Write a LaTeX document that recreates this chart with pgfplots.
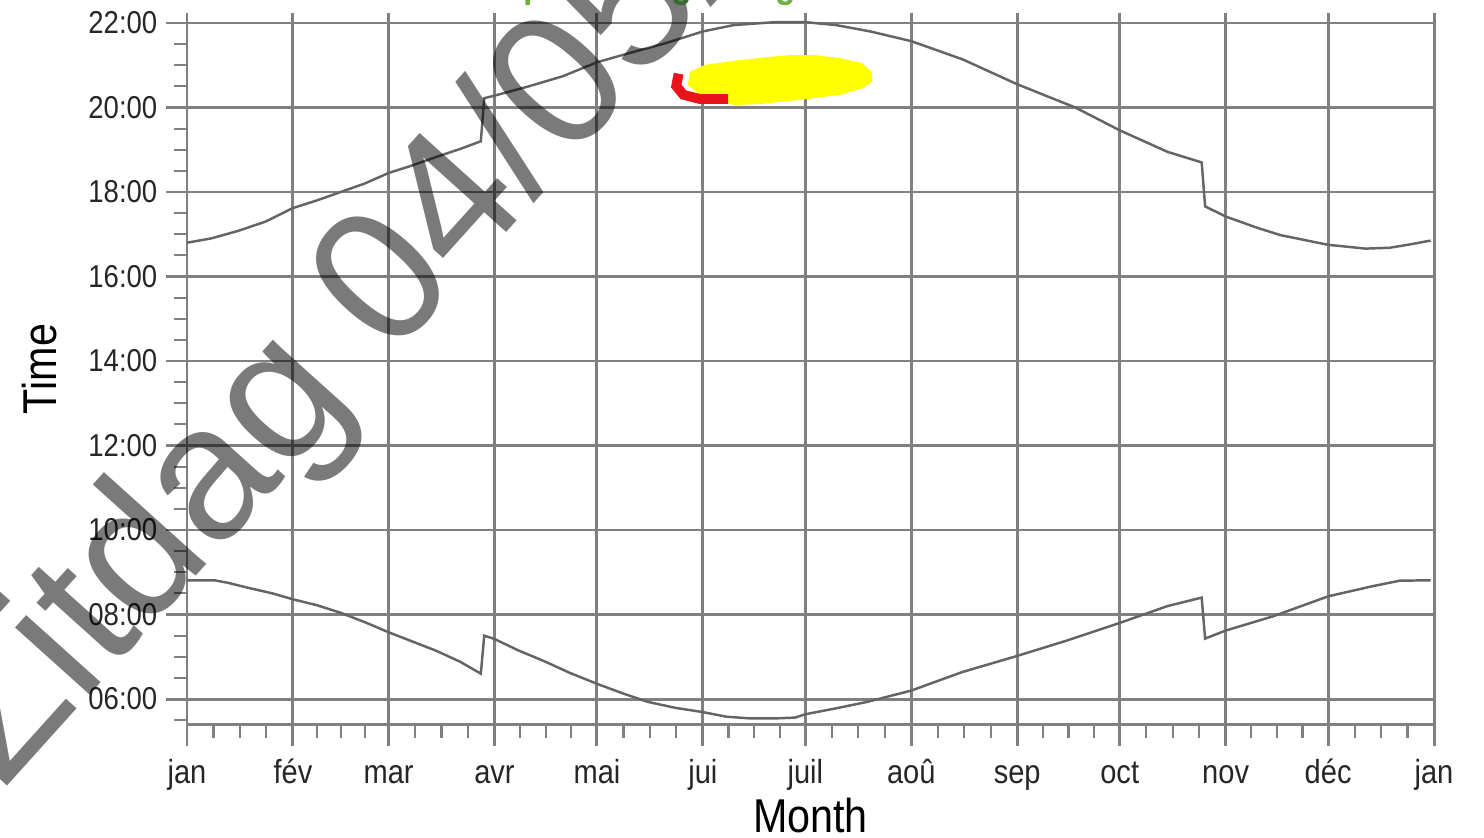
\documentclass[border=0pt]{standalone}
\usepackage{fontspec}
\setmainfont{Liberation Sans}[FakeStretch=0.87]
\newfontfamily\wmfont{Liberation Sans}
\usepackage{pgfplots}
\pgfplotsset{compat=1.18}
\definecolor{gridgray}{RGB}{128,128,128}
\definecolor{curvegray}{RGB}{100,100,100}
\definecolor{ltgreen}{RGB}{106,176,60}
\definecolor{dkgreen}{RGB}{50,110,40}
\definecolor{hlred}{RGB}{232,20,28}
\definecolor{hlyellow}{RGB}{255,255,0}
\begin{document}
\begin{tikzpicture}
\useasboundingbox (0,0) rectangle (14.84cm,8.38cm);
\begin{axis}[
  at={(1.87cm,1.13cm)}, anchor=south west,
  scale only axis, width=12.47cm, height=7.12cm,
  xmin=0, xmax=365, ymin=5.385, ymax=22.237,
  axis x line*=bottom, axis y line*=left,
  axis line style={gridgray, line width=0.85pt},
  xtick={0,31,59,90,120,151,181,212,243,273,304,334,365},
  xticklabels={jan,fév,mar,avr,mai,jui,juil,aoû,sep,oct,nov,déc,jan},
  minor xtick={7.75,15.5,23.25,38,45,52,66.75,74.5,82.25,97.5,105,112.5,127.75,135.5,143.25,158.5,166,173.5,188.75,196.5,204.25,219.75,227.5,235.25,250.5,258,265.5,280.75,288.5,296.25,311.5,319,326.5,341.75,349.5,357.25},
  ytick={6,8,...,22},
  yticklabels={06:00,08:00,10:00,12:00,14:00,16:00,18:00,20:00,22:00},
  minor ytick={5.5,6,...,22},
  grid=major,
  major grid style={gridgray, line width=0.85pt},
  tick align=outside,
  major tick length=0.21cm, minor tick length=0.13cm,
  major tick style={gridgray, line width=0.85pt},
  minor tick style={gridgray, line width=0.6pt},
  xticklabel style={font=\fontsize{9.5}{10}\selectfont, inner sep=0pt, text=black!85, anchor=north, text height=0.72em, text depth=0.21em, yshift=-0.11cm},
  yticklabel style={font=\fontsize{9}{10}\selectfont, inner sep=0pt, text=black!85, xshift=-0.08cm},
  xlabel={Month}, ylabel={Time},
  xlabel style={font=\fontsize{13.5}{14}\selectfont, at={(axis description cs:0.5,-0.1278)}, anchor=center, inner sep=0pt},
  ylabel style={font=\fontsize{13.5}{14}\selectfont, at={(axis description cs:-0.1179,0.5)}, anchor=center, inner sep=0pt},
  clip=false,
]
% sunset
\addplot[curvegray, line width=0.7pt] coordinates {
(0,16.80) (7,16.90) (15,17.08) (23,17.30) (31,17.62) (38,17.80) (45,18.00) (52,18.20) (59,18.45) (66,18.63) (73,18.83) (80,19.02) (86,19.20)
(87,20.22) (90,20.28) (100,20.50) (110,20.74) (120,21.07) (130,21.30) (140,21.52) (151,21.80) (160,21.95) (172,22.02) (181,22.02) (190,21.95) (200,21.80) (212,21.57) (227,21.14) (243,20.55) (260,20.00) (273,19.46) (287,18.95) (297,18.70)
(298,17.66) (304,17.42) (313,17.16) (320,16.98) (334,16.75) (345,16.66) (352,16.68) (358,16.76) (364,16.85)};
% sunrise
\addplot[curvegray, line width=0.7pt] coordinates {
(0,8.81) (8,8.81) (12,8.75) (18,8.63) (25,8.50) (31,8.36) (38,8.22) (45,8.04) (52,7.82) (59,7.58) (66,7.36) (73,7.14) (80,6.88) (86,6.60)
(87,7.50) (90,7.42) (97,7.15) (105,6.88) (112,6.62) (120,6.36) (128,6.12) (135,5.93) (143,5.79) (151,5.69) (158,5.58) (165,5.54) (172,5.54) (178,5.56) (181,5.64) (190,5.78) (199,5.93) (212,6.20) (227,6.64) (243,7.02) (257,7.37) (273,7.80) (287,8.20) (297,8.40)
(298,7.43) (304,7.62) (318,7.96) (334,8.43) (347,8.67) (355,8.80) (364,8.81)};
% highlight
\addplot[fill=hlyellow, draw=none] coordinates {
(147.2,20.84) (151.6,21.01) (161.9,21.12) (170.6,21.20) (176.5,21.24) (183.8,21.24) (191.1,21.17) (197.6,21.05) (200.5,20.84) (200.5,20.60) (197.6,20.45) (191.1,20.30) (179.4,20.18) (167.7,20.08) (160.4,20.06) (156.0,20.13) (150.2,20.30) (146.6,20.53)} -- cycle;
\addplot[hlred, line width=2.8pt] coordinates {(143.9,20.80) (143.2,20.51) (145.3,20.30) (150.2,20.20) (158.4,20.20)};
\end{axis}
\node[rotate=48, anchor=base west, inner sep=0pt, text=black, text opacity=0.52, font=\wmfont\fontsize{54}{54}\selectfont] at (0.03cm,0.47cm) {Zitdag 04/05/};
\node[anchor=base, inner sep=0pt, text=ltgreen, font=\bfseries\fontsize{11}{11}\selectfont] at (5.34cm,8.40cm) {p};
\node[anchor=base, inner sep=0pt, text=dkgreen, font=\bfseries\fontsize{11}{11}\selectfont] at (6.82cm,8.40cm) {g};
\node[anchor=base, inner sep=0pt, text=ltgreen, font=\bfseries\fontsize{11}{11}\selectfont] at (7.86cm,8.40cm) {g};
\end{tikzpicture}
\end{document}
